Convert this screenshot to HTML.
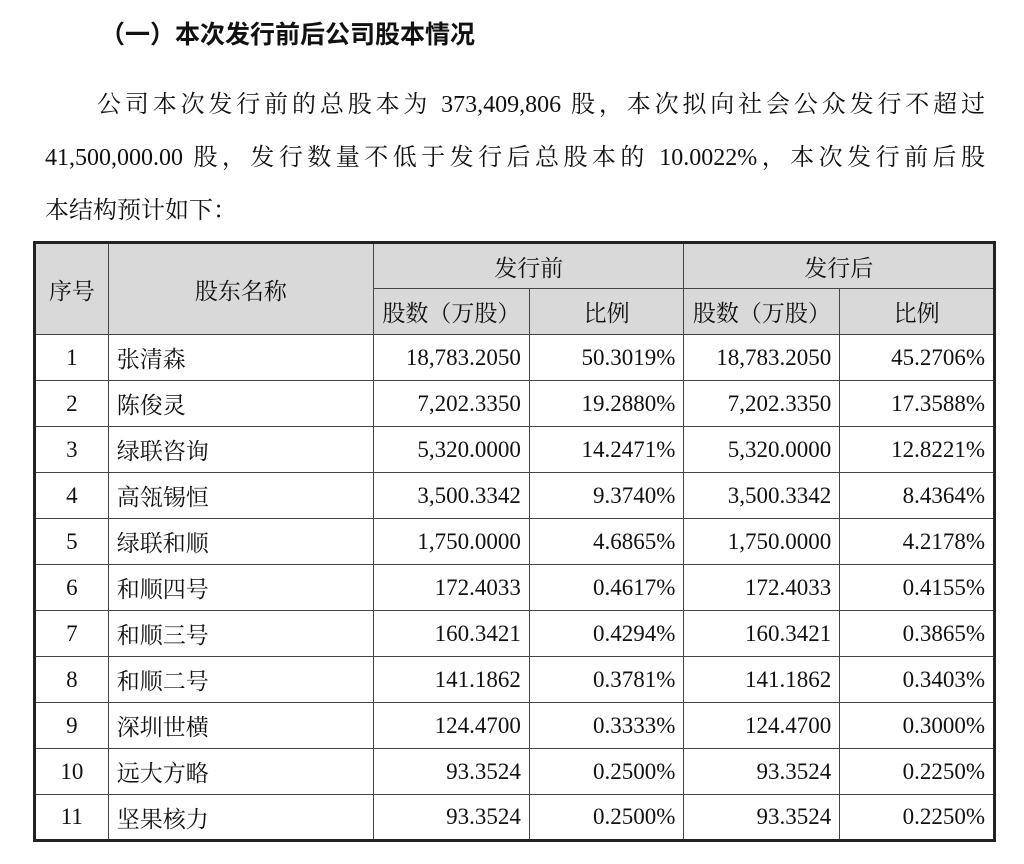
<!DOCTYPE html>
<html><head><meta charset="utf-8"><style>
body{margin:0;width:1024px;height:864px;background:#fff;position:relative;overflow:hidden;font-family:"Liberation Serif","Noto Serif CJK SC",serif;color:#111}
.h{position:absolute;left:100px;top:15px;font:bold 25px "Liberation Sans","Noto Sans CJK SC",sans-serif}
.l{position:absolute;font-size:24px;text-align:justify;text-align-last:justify;white-space:nowrap}
table{position:absolute;left:33px;top:241px;width:963px;border-collapse:collapse;border:3px solid #222;font-size:23px}
tr{height:46px}
td{border:1.5px solid #444;height:46px;padding:0 8px;box-sizing:border-box}
.g td{background:#d9d9d9;text-align:center}
.c{text-align:center}.r{text-align:right}
</style></head><body>
<div class="h">（一）本次发行前后公司股本情况</div>
<div class="l" style="left:97px;top:84px;width:888px">公司本次发行前的总股本为 373,409,806 股，本次拟向社会公众发行不超过</div>
<div class="l" style="left:45px;top:137px;width:940px">41,500,000.00 股，发行数量不低于发行后总股本的 10.0022%，本次发行前后股</div>
<div class="l" style="left:45px;top:190px;text-align-last:left">本结构预计如下：</div>
<table>
<colgroup><col style="width:74px"><col style="width:267px"><col style="width:156px"><col style="width:155px"><col style="width:156px"><col style="width:155px"></colgroup>
<tr class="g"><td rowspan="2">序号</td><td rowspan="2">股东名称</td><td colspan="2">发行前</td><td colspan="2">发行后</td></tr>
<tr class="g"><td>股数（万股）</td><td>比例</td><td>股数（万股）</td><td>比例</td></tr>
<tr><td class="c">1</td><td>张清森</td><td class="r">18,783.2050</td><td class="r">50.3019%</td><td class="r">18,783.2050</td><td class="r">45.2706%</td></tr>
<tr><td class="c">2</td><td>陈俊灵</td><td class="r">7,202.3350</td><td class="r">19.2880%</td><td class="r">7,202.3350</td><td class="r">17.3588%</td></tr>
<tr><td class="c">3</td><td>绿联咨询</td><td class="r">5,320.0000</td><td class="r">14.2471%</td><td class="r">5,320.0000</td><td class="r">12.8221%</td></tr>
<tr><td class="c">4</td><td>高瓴锡恒</td><td class="r">3,500.3342</td><td class="r">9.3740%</td><td class="r">3,500.3342</td><td class="r">8.4364%</td></tr>
<tr><td class="c">5</td><td>绿联和顺</td><td class="r">1,750.0000</td><td class="r">4.6865%</td><td class="r">1,750.0000</td><td class="r">4.2178%</td></tr>
<tr><td class="c">6</td><td>和顺四号</td><td class="r">172.4033</td><td class="r">0.4617%</td><td class="r">172.4033</td><td class="r">0.4155%</td></tr>
<tr><td class="c">7</td><td>和顺三号</td><td class="r">160.3421</td><td class="r">0.4294%</td><td class="r">160.3421</td><td class="r">0.3865%</td></tr>
<tr><td class="c">8</td><td>和顺二号</td><td class="r">141.1862</td><td class="r">0.3781%</td><td class="r">141.1862</td><td class="r">0.3403%</td></tr>
<tr><td class="c">9</td><td>深圳世横</td><td class="r">124.4700</td><td class="r">0.3333%</td><td class="r">124.4700</td><td class="r">0.3000%</td></tr>
<tr><td class="c">10</td><td>远大方略</td><td class="r">93.3524</td><td class="r">0.2500%</td><td class="r">93.3524</td><td class="r">0.2250%</td></tr>
<tr><td class="c">11</td><td>坚果核力</td><td class="r">93.3524</td><td class="r">0.2500%</td><td class="r">93.3524</td><td class="r">0.2250%</td></tr>
</table>
</body></html>
